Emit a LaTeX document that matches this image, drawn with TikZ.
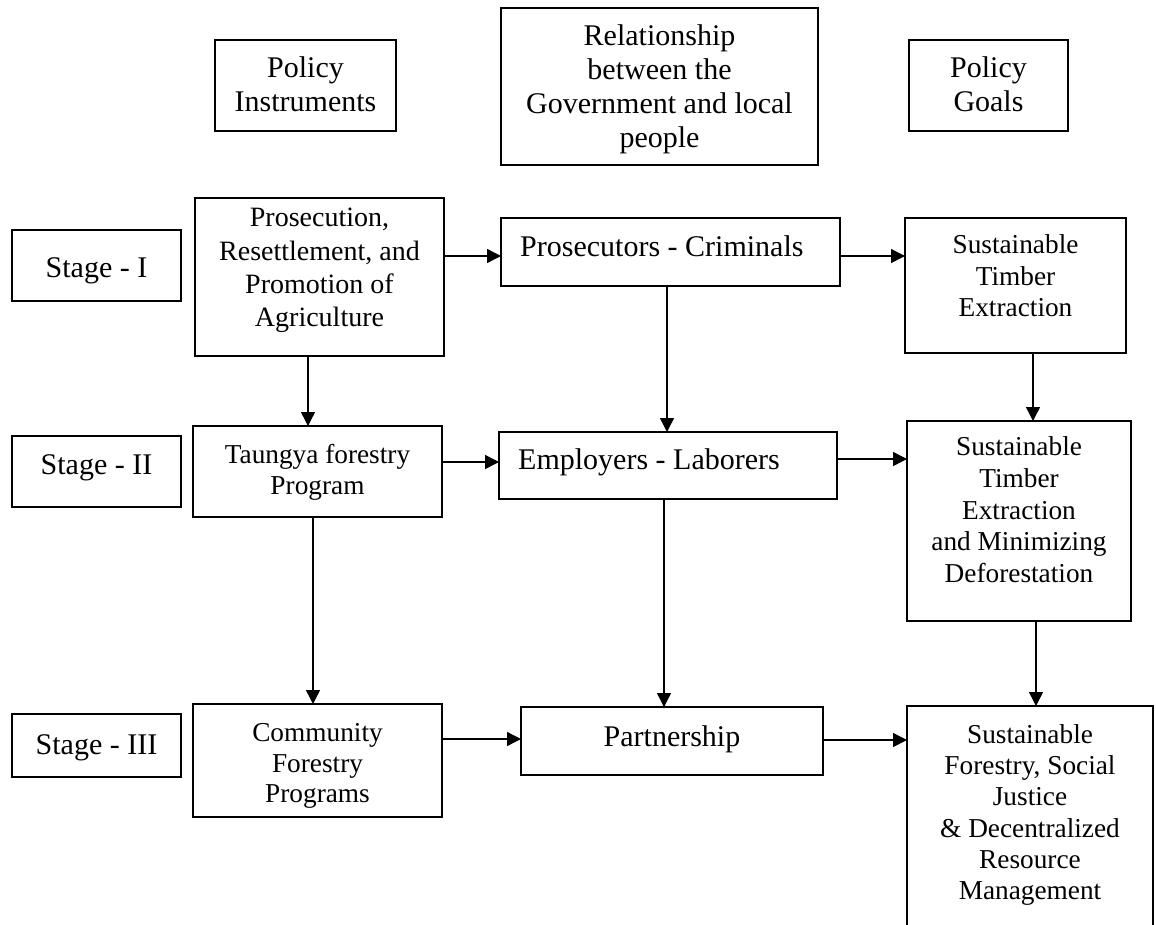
\documentclass[tikz,border=0pt]{standalone}
\usepackage{fontspec}
\setmainfont{Liberation Serif}
\usetikzlibrary{arrows.meta}
\begin{document}
\begin{tikzpicture}[x=1pt,y=-1pt,
  box/.style={draw, line width=1.6pt, rectangle, inner sep=0pt, outer sep=0pt},
  big/.style={font=\fontsize{30}{34.5}\selectfont, inner sep=0pt, align=center},
  rel/.style={font=\fontsize{30}{34}\selectfont, inner sep=0pt, align=center},
  mid/.style={font=\fontsize{28}{33.3}\selectfont, inner sep=0pt, align=center},
  small/.style={font=\fontsize{27.3}{31.5}\selectfont, inner sep=0pt, align=center},
  arr/.style={line width=1.4pt, -{Triangle[length=14pt,width=14pt]}}]
\useasboundingbox (0,0) rectangle (1156,924);
\fill[white] (0,0) rectangle (1156,924);
\clip (0,0) rectangle (1156,924);

% header boxes
\node[box, minimum width=181, minimum height=91] (pi) at (305.5,85.5) {};
\node[big, anchor=north] (piT) at (305.5,56) {Policy\\Instruments};
\node[box, minimum width=317, minimum height=157] (rel) at (659.5,86.5) {};
\node[rel, anchor=north] (relT) at (659.5,24.5) {Relationship\\between the\\Government and local\\people};
\node[box, minimum width=159, minimum height=91] (pg) at (988.5,85.5) {};
\node[big, anchor=north] (pgT) at (988.5,56) {Policy\\Goals};

% stage labels
\node[box, minimum width=169, minimum height=71] (s1) at (96.5,265.5) {};
\node[big, anchor=base] (s1T) at (96.5,277) {Stage - I};
\node[box, minimum width=169, minimum height=71] (s2) at (96.5,471.5) {};
\node[big, anchor=base] (s2T) at (96.5,474) {Stage - II};
\node[box, minimum width=169, minimum height=63] (s3) at (96.5,745.5) {};
\node[big, anchor=base] (s3T) at (96.5,754) {Stage - III};

% stage I row
\node[box, minimum width=249, minimum height=158] (pros) at (319.5,277) {};
\node[mid, anchor=north] (prosT) at (319.5,208) {Prosecution,\\Resettlement, and\\Promotion of\\Agriculture};
\node[box, minimum width=339, minimum height=68] (prosc) at (670.5,252) {};
\node[big, anchor=base west] (proscT) at (520,256) {Prosecutors - Criminals};
\node[box, minimum width=221, minimum height=135] (ste1) at (1015.5,285.5) {};
\node[small, anchor=north] (ste1T) at (1015.5,234.4) {Sustainable\\Timber\\Extraction};

% stage II row
\node[box, minimum width=249, minimum height=91] (taung) at (317.5,471.5) {};
\node[small, anchor=north, font=\fontsize{27.3}{31}\selectfont] (taungT) at (317.5,444.4) {Taungya forestry\\Program};
\node[box, minimum width=338, minimum height=67] (empl) at (668,465.5) {};
\node[big, anchor=base west] (emplT) at (518,469) {Employers - Laborers};
\node[box, minimum width=224, minimum height=200] (ste2) at (1019,521) {};
\node[small, anchor=north, font=\fontsize{27.3}{31.8}\selectfont] (ste2T) at (1019,436.4) {Sustainable\\Timber\\Extraction\\and Minimizing\\Deforestation};

% stage III row
\node[box, minimum width=249, minimum height=113] (comm) at (317.5,760.5) {};
\node[small, anchor=north, font=\fontsize{27.3}{30.5}\selectfont] (commT) at (317.5,723.4) {Community\\Forestry\\Programs};
\node[box, minimum width=302, minimum height=68] (part) at (672,741) {};
\node[big, anchor=base] (partT) at (672,746) {Partnership};
\node[box, minimum width=246, minimum height=240] (fin) at (1030,826) {};
\node[small, anchor=north, font=\fontsize{27.3}{31.2}\selectfont] (finT) at (1030,724.4) {Sustainable\\Forestry, Social\\Justice\\\& Decentralized\\Resource\\Management};

% horizontal connectors
\draw[arr] ([yshift=21pt]pros.east) -- ([yshift=21pt]pros.east -| prosc.west);
\draw[arr] ([yshift=-4pt]prosc.east) -- ([yshift=-4pt]prosc.east -| ste1.west);
\draw[arr] ([yshift=9.5pt]taung.east) -- ([yshift=9.5pt]taung.east -| empl.west);
\draw[arr] ([yshift=6.5pt]empl.east) -- ([yshift=6.5pt]empl.east -| ste2.west);
\draw[arr] ([yshift=21.5pt]comm.east) -- ([yshift=21.5pt]comm.east -| part.west);
\draw[arr] ([yshift=1pt]part.east) -- ([yshift=1pt]part.east -| fin.west);

% vertical connectors
\draw[arr] ([xshift=-11.5pt]pros.south) -- ([xshift=-11.5pt]pros.south |- taung.north);
\draw[arr] ([xshift=-3.5pt]prosc.south) -- ([xshift=-3.5pt]prosc.south |- empl.north);
\draw[arr] ([xshift=17.5pt]ste1.south) -- ([xshift=17.5pt]ste1.south |- ste2.north);
\draw[arr] ([xshift=-4.5pt]taung.south) -- ([xshift=-4.5pt]taung.south |- comm.north);
\draw[arr] ([xshift=-4pt]empl.south) -- ([xshift=-4pt]empl.south |- part.north);
\draw[arr] ([xshift=17pt]ste2.south) -- ([xshift=17pt]ste2.south |- fin.north);
\end{tikzpicture}
\end{document}
